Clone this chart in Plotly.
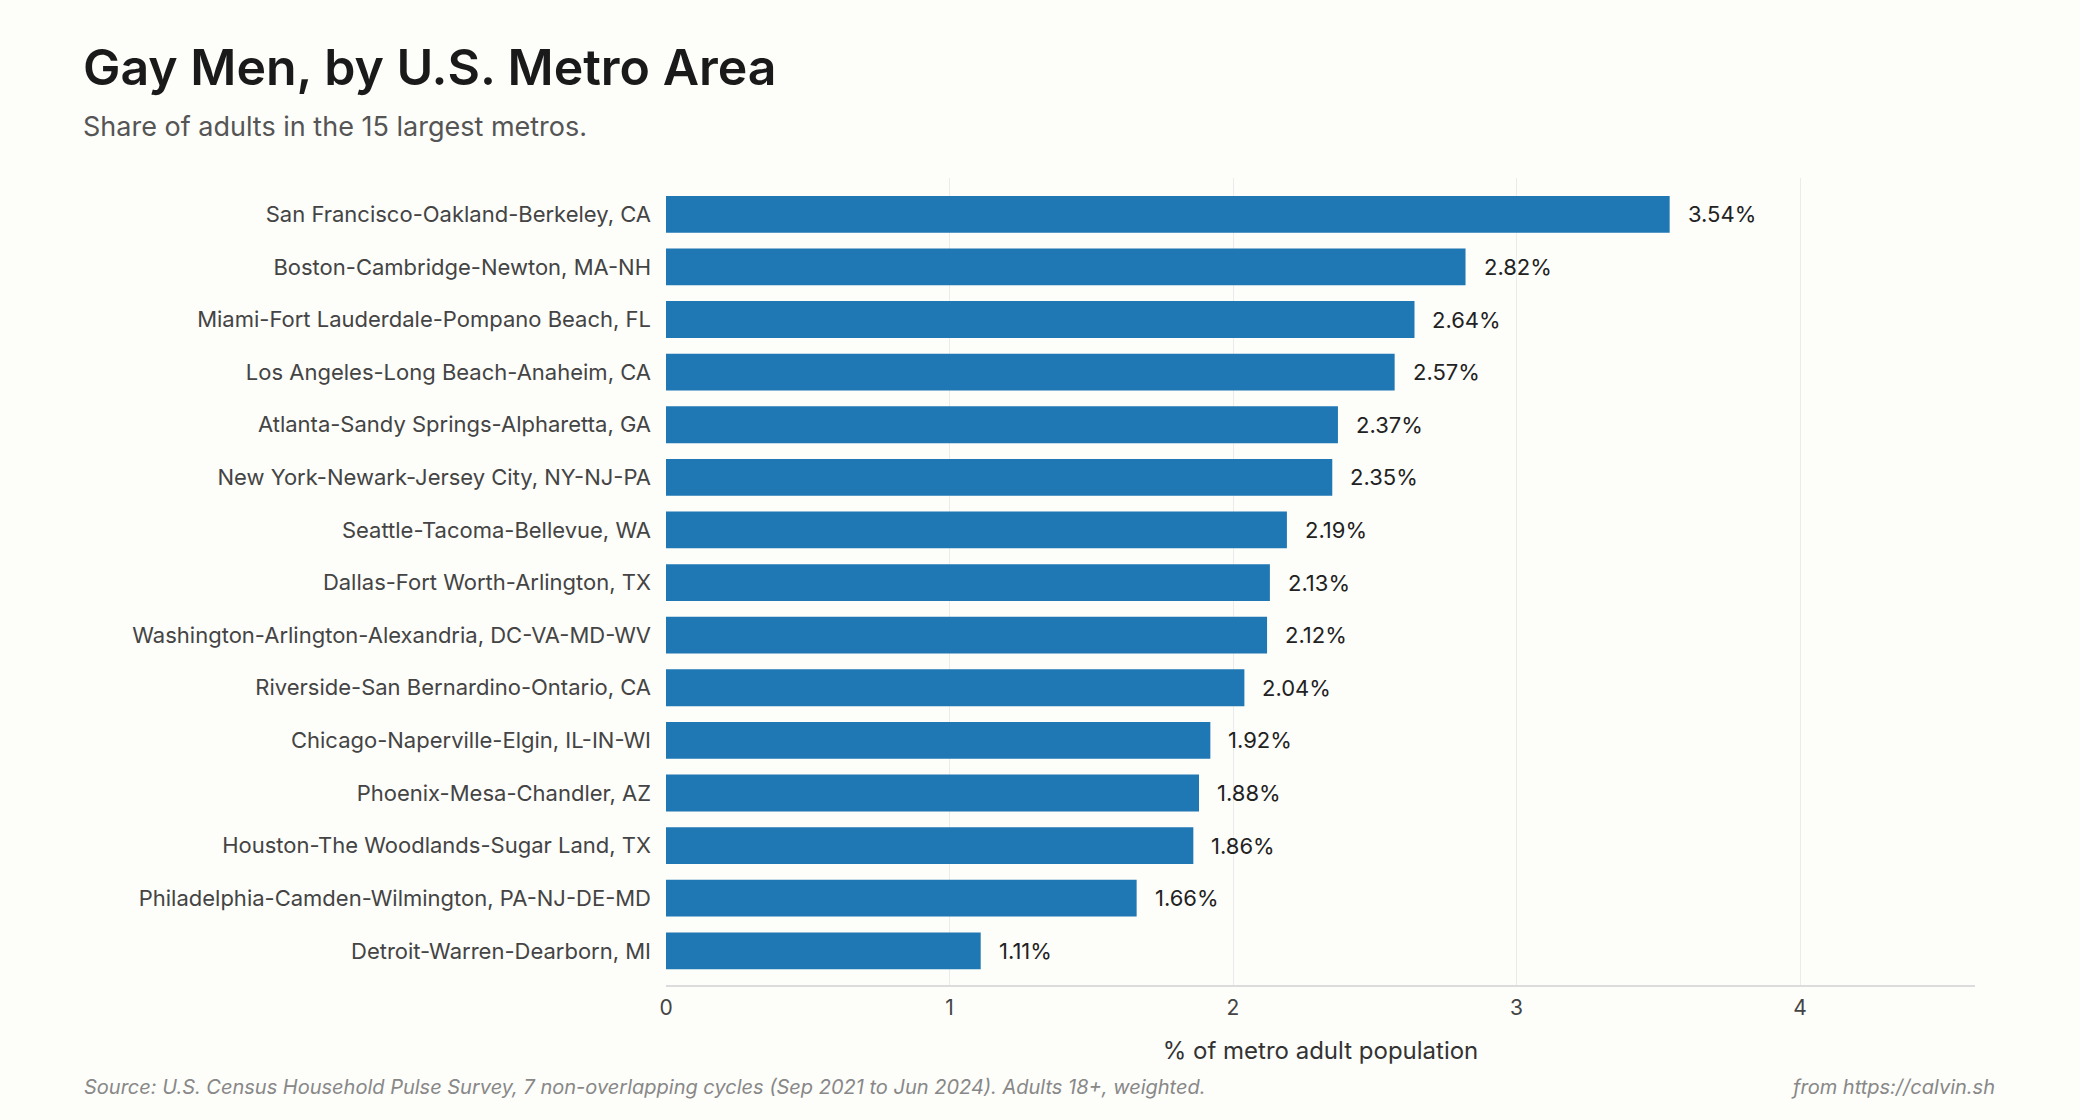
import plotly.graph_objects as go

metros = [
    "San Francisco-Oakland-Berkeley, CA",
    "Boston-Cambridge-Newton, MA-NH",
    "Miami-Fort Lauderdale-Pompano Beach, FL",
    "Los Angeles-Long Beach-Anaheim, CA",
    "Atlanta-Sandy Springs-Alpharetta, GA",
    "New York-Newark-Jersey City, NY-NJ-PA",
    "Seattle-Tacoma-Bellevue, WA",
    "Dallas-Fort Worth-Arlington, TX",
    "Washington-Arlington-Alexandria, DC-VA-MD-WV",
    "Riverside-San Bernardino-Ontario, CA",
    "Chicago-Naperville-Elgin, IL-IN-WI",
    "Phoenix-Mesa-Chandler, AZ",
    "Houston-The Woodlands-Sugar Land, TX",
    "Philadelphia-Camden-Wilmington, PA-NJ-DE-MD",
    "Detroit-Warren-Dearborn, MI",
]
shares = [3.54, 2.82, 2.64, 2.57, 2.37, 2.35, 2.19, 2.13, 2.12, 2.04, 1.92, 1.88, 1.86, 1.66, 1.11]
x_ticks = [0, 1, 2, 3, 4]

W, H = 2080, 1120
L, R, T, B = 666, 105, 178, 135
PW, PH = W - L - R, H - T - B

def px(x):
    return (x - L) / PW

def py(y):
    return (H - B - y) / PH

FONT = "Inter"
BG = "#fdfdfa"

fig = go.Figure()
fig.add_trace(go.Bar(
    x=shares, y=metros, orientation="h",
    marker=dict(color="#1f77b4", line=dict(width=0)),
    width=0.7, hoverinfo="skip",
))

annotations = []
for m, v in zip(metros, shares):
    annotations.append(dict(
        x=v, y=m, xref="x", yref="y", text=f"{v:.2f}%", showarrow=False,
        xanchor="left", yanchor="middle", xshift=16,
        font=dict(family=FONT, size=22, color="#222222"),
    ))

annotations += [
    dict(x=px(81), y=py(67), xref="paper", yref="paper", text="Gay Men, by U.S. Metro Area",
         showarrow=False, xanchor="left", yanchor="middle",
         font=dict(family=FONT, size=50, color="#1a1a1a", weight=600)),
    dict(x=px(81), y=py(126), xref="paper", yref="paper", text="Share of adults in the 15 largest metros.",
         showarrow=False, xanchor="left", yanchor="middle",
         font=dict(family=FONT, size=27, color="#555555")),
    dict(x=px(82), y=py(1087), xref="paper", yref="paper",
         text="<i>Source: U.S. Census Household Pulse Survey, 7 non-overlapping cycles (Sep 2021 to Jun 2024). Adults 18+, weighted.</i>",
         showarrow=False, xanchor="left", yanchor="middle",
         font=dict(family=FONT, size=20, color="#888888")),
    dict(x=px(1997), y=py(1087), xref="paper", yref="paper", text="<i>from https://calvin.sh</i>",
         showarrow=False, xanchor="right", yanchor="middle",
         font=dict(family=FONT, size=20, color="#888888")),
]

fig.update_layout(
    width=W, height=H,
    margin=dict(l=L, r=R, t=T, b=B, autoexpand=False),
    paper_bgcolor=BG, plot_bgcolor=BG,
    showlegend=False,
    bargap=0.3,
    annotations=annotations,
    xaxis=dict(
        range=[0, 4.617], tickvals=x_ticks, ticktext=[str(t) for t in x_ticks],
        showgrid=True, gridcolor="#ebebeb", gridwidth=1,
        zeroline=False, showline=True, linecolor="#dcdcdc", linewidth=2,
        ticks="", ticklabelstandoff=3,
        tickfont=dict(family=FONT, size=21, color="#444444"),
        title=dict(text="% of metro adult population", standoff=23,
                   font=dict(family=FONT, size=24, color="#333333")),
        fixedrange=True,
    ),
    yaxis=dict(
        categoryorder="array", categoryarray=metros,
        range=[14.65, -0.69],
        showgrid=False, zeroline=False, showline=False, ticks="",
        ticklabelstandoff=14,
        tickfont=dict(family=FONT, size=22, color="#444444"),
        fixedrange=True,
    ),
)

fig.write_html(
    "out.html",
    config={"displayModeBar": False},
    post_script="document.body.style.margin='0';document.body.style.background='" + BG + "';",
)
